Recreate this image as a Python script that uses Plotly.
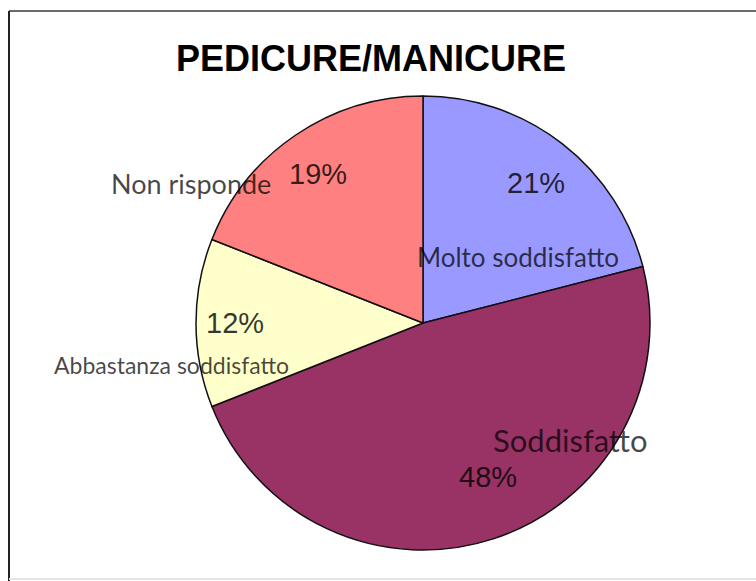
import plotly.graph_objects as go

# Survey answers for the pedicure/manicure service
categories = ["Molto soddisfatto", "Soddisfatto", "Abbastanza soddisfatto", "Non risponde"]
percentages = [21, 48, 12, 19]
slice_colors = ["#9999FF", "#993366", "#FFFFCC", "#FF8080"]

W, H = 756, 581
CX, CY, R = 423, 323, 227  # pie centre and radius in pixels


def px(x):
    return x / W


def py(y):
    return 1 - y / H


fig = go.Figure(
    go.Pie(
        labels=categories,
        values=percentages,
        sort=False,
        direction="clockwise",
        rotation=0,
        marker=dict(colors=slice_colors, line=dict(color="#111111", width=1.5)),
        textinfo="none",
        hoverinfo="label+percent",
        showlegend=False,
        domain=dict(x=[px(CX - R), px(CX + R)], y=[py(CY + R), py(CY - R)]),
    )
)

# Percentage labels (pixel anchor for each slice)
pct_pos = {
    "Molto soddisfatto": (536, 183),
    "Soddisfatto": (488, 477),
    "Abbastanza soddisfatto": (235, 323),
    "Non risponde": (318, 174),
}
# Category labels with their font size
cat_pos = {
    "Molto soddisfatto": (518, 257, 26),
    "Soddisfatto": (570, 440, 31),
    "Abbastanza soddisfatto": (171, 365, 23),
    "Non risponde": (191, 183, 27),
}

annotations = []
for name, val in zip(categories, percentages):
    x, y = pct_pos[name]
    annotations.append(dict(
        x=px(x), y=py(y), xref="paper", yref="paper",
        text=f"{val}%", showarrow=False, xanchor="center", yanchor="middle",
        font=dict(family="Liberation Sans, Arial, sans-serif", size=29, color="rgba(0,0,0,0.8)"),
    ))
    x, y, s = cat_pos[name]
    annotations.append(dict(
        x=px(x), y=py(y), xref="paper", yref="paper",
        text=name, showarrow=False, xanchor="center", yanchor="middle",
        font=dict(family="Lato, sans-serif", size=s, color="rgba(0,0,0,0.72)"),
    ))

fig.update_layout(
    width=W, height=H,
    margin=dict(l=0, r=0, t=0, b=0),
    paper_bgcolor="white",
    plot_bgcolor="white",
    title=dict(
        text="<b>PEDICURE/MANICURE</b>",
        x=px(371), y=py(58), xanchor="center", yanchor="middle",
        font=dict(family="Liberation Sans, Arial, sans-serif", size=36, color="#000000"),
    ),
    annotations=annotations,
    shapes=[
        dict(type="line", xref="paper", yref="paper",
             x0=px(9), x1=1.0, y0=py(11), y1=py(11),
             line=dict(color="#6a6a6a", width=2)),
        dict(type="line", xref="paper", yref="paper",
             x0=px(9), x1=px(9), y0=py(11), y1=0,
             line=dict(color="#222222", width=2)),
        dict(type="line", xref="paper", yref="paper",
             x0=px(9), x1=1.0, y0=py(579), y1=py(579),
             line=dict(color="#e4e4e4", width=2)),
    ],
)

fig.write_html("out.html")
